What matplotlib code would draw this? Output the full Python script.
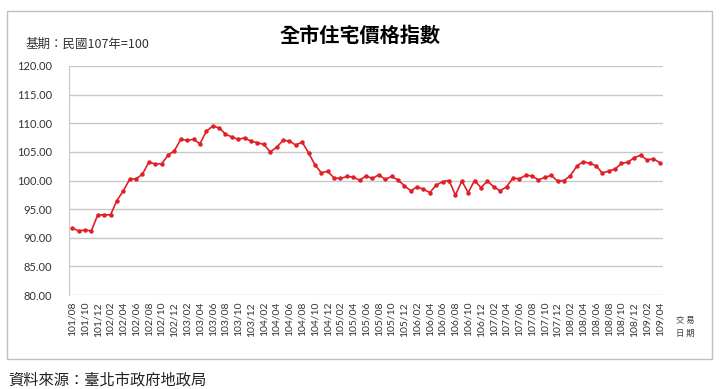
import matplotlib
matplotlib.use("Agg")
import matplotlib.pyplot as plt
from matplotlib.patches import Rectangle

plt.rcParams['font.family'] = ['Lato', 'Noto Sans CJK TC', 'DejaVu Sans']

# monthly index, 101/08 .. 109/04 (base 107 = 100)
index_values = [
    91.7, 91.2, 91.35, 91.2, 94.0, 94.0, 94.0, 96.5, 98.2, 100.2,
    100.3, 101.1, 103.2, 102.9, 102.9, 104.4, 105.2, 107.2, 107.0, 107.2,
    106.4, 108.6, 109.5, 109.2, 108.1, 107.6, 107.2, 107.45, 106.85, 106.6,
    106.3, 105.0, 105.8, 107.0, 106.9, 106.2, 106.7, 104.85, 102.75, 101.35,
    101.6, 100.45, 100.35, 100.7, 100.6, 100.05, 100.8, 100.35, 101.0, 100.2,
    100.7, 100.1, 99.1, 98.2, 98.9, 98.45, 97.9, 99.2, 99.8, 100.0,
    97.45, 99.9, 97.9, 100.0, 98.75, 99.9, 98.9, 98.2, 98.9, 100.4,
    100.3, 100.9, 100.8, 100.1, 100.55, 100.9, 99.9, 100.0, 100.85, 102.5,
    103.3, 103.0, 102.6, 101.3, 101.65, 102.0, 103.0, 103.2, 104.0, 104.4,
    103.6, 103.8, 103.1,
]

tick_labels = [
    "101/08", "101/10", "101/12", "102/02", "102/04", "102/06", "102/08",
    "102/10", "102/12", "103/02", "103/04", "103/06", "103/08", "103/10",
    "103/12", "104/02", "104/04", "104/06", "104/08", "104/10", "104/12",
    "105/02", "105/04", "105/06", "105/08", "105/10", "105/12", "106/02",
    "106/04", "106/06", "106/08", "106/10", "106/12", "107/02", "107/04",
    "107/06", "107/08", "107/10", "107/12", "108/02", "108/04", "108/06",
    "108/08", "108/10", "108/12", "109/02", "109/04",
]

y_ticks = [80, 85, 90, 95, 100, 105, 110, 115, 120]

fig = plt.figure(figsize=(7.2, 3.89), dpi=100)

# outer chart frame
fig.patches.append(Rectangle((7 / 720, 1 - 359 / 389), 704.5 / 720, 348 / 389,
                             transform=fig.transFigure, fill=False,
                             edgecolor="#bfbfbf", linewidth=1))

ax = fig.add_axes([69 / 720, 1 - 295 / 389, 594 / 720, 229 / 389])

x = list(range(len(index_values)))
ax.plot(x, index_values, color="#e01f26", linewidth=1.2, marker="o",
        markersize=2.2, zorder=3)

ax.set_xlim(-0.5, len(index_values) - 0.5)
ax.set_ylim(80, 120)
ax.set_yticks(y_ticks)
ax.set_yticklabels([f"{v:.2f}" for v in y_ticks], fontsize=8, color="#333333")
ax.set_xticks(x[::2])
ax.set_xticklabels(tick_labels, rotation=90, fontsize=7.5, color="#333333")
ax.tick_params(axis="both", length=0)
ax.tick_params(axis="y", pad=12)
ax.tick_params(axis="x", pad=5)

ax.grid(axis="y", color="#c8c8c8", linewidth=1)
ax.set_axisbelow(True)
for side in ["top", "right", "bottom"]:
    ax.spines[side].set_visible(False)
ax.spines["left"].set_color("#c8c8c8")

fig.text(0.5, 1 - 35 / 389, "全市住宅價格指數", ha="center", va="center",
         fontsize=14.5, fontweight="bold", family=["Noto Sans CJK TC", "DejaVu Sans"])
fig.text(25 / 720, 1 - 44 / 389, "基期：民國107年=100", ha="left", va="center",
         fontsize=9, color="#333333", family=["Noto Sans CJK TC", "DejaVu Sans"])
fig.text(685 / 720, 1 - 327 / 389, "交 易\n日 期", ha="center", va="center",
         fontsize=6, color="#404040", linespacing=1.6,
         family=["Noto Sans CJK TC", "DejaVu Sans"])
fig.text(8 / 720, 1 - 380 / 389, "資料來源：臺北市政府地政局", ha="left", va="center",
         fontsize=11, color="#222222", family=["Noto Sans CJK TC", "DejaVu Sans"])

fig.savefig("out.png", dpi=100)
